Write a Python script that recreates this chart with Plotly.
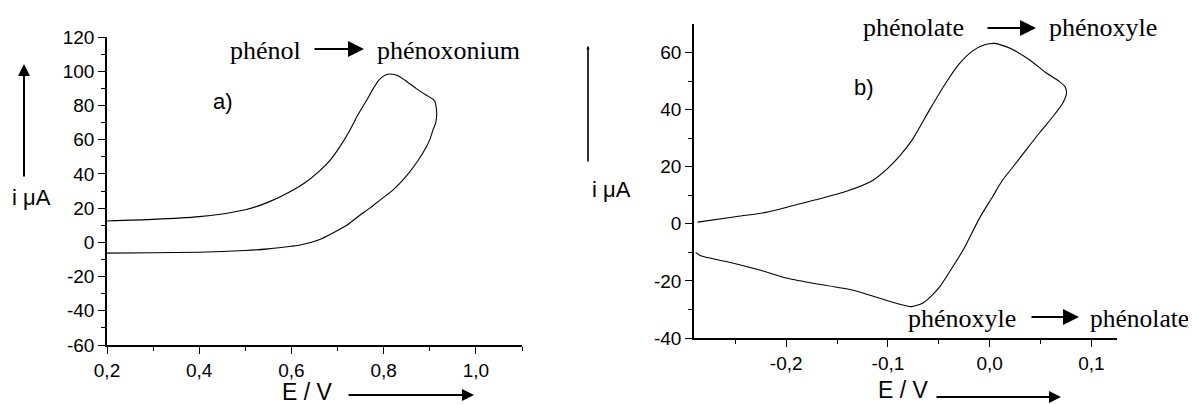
import plotly.graph_objects as go

W, H = 1196, 404
OFF = 8  # page body margin: the figure is drawn starting at (8, 8)
FW, FH = W - OFF, H - OFF

# ---------------- data: panel a) phénol ----------------
E_a = [0.20, 0.30, 0.40, 0.45, 0.50, 0.55, 0.60, 0.63, 0.66, 0.684, 0.71, 0.727, 0.745,
       0.763, 0.78, 0.792, 0.805, 0.814, 0.83, 0.85, 0.87, 0.893, 0.905, 0.911, 0.915,
       0.913, 0.907, 0.90, 0.893, 0.875, 0.85, 0.82, 0.792, 0.77, 0.749, 0.72, 0.69,
       0.66, 0.619, 0.60, 0.55, 0.50, 0.40, 0.30, 0.20]
I_a = [12.5, 13.4, 15.0, 16.6, 19.0, 23.5, 30.0, 35.0, 41.5, 48.0, 58.0, 65.7, 75.0,
       83.0, 91.0, 95.5, 98.0, 98.4, 97.5, 94.0, 90.0, 86.0, 84.0, 82.5, 76.0,
       70.0, 65.7, 60.0, 56.0, 48.0, 39.0, 30.5, 24.7, 20.0, 16.0, 10.0, 5.5,
       1.5, -1.6, -2.3, -3.8, -4.8, -5.8, -6.1, -6.3]

# ---------------- data: panel b) phénolate ----------------
E_b = [-0.287, -0.25, -0.22, -0.194, -0.171, -0.14, -0.115, -0.10, -0.088, -0.076,
       -0.059, -0.043, -0.030, -0.017, -0.005, 0.005, 0.02, 0.039, 0.055, 0.068, 0.074,
       0.0755, 0.072, 0.062, 0.049, 0.036, 0.023, 0.012, 0.003, -0.01, -0.026, -0.038,
       -0.049, -0.058, -0.066, -0.077, -0.09, -0.108, -0.135, -0.174, -0.20, -0.227,
       -0.259, -0.284, -0.289]
I_b = [0.6, 2.5, 4.0, 6.3, 8.4, 11.5, 15.2, 19.5, 24.0, 29.5,
       40.0, 49.4, 56.0, 60.5, 62.7, 63.2, 61.5, 57.5, 53.0, 50.0, 48.0,
       46.0, 42.4, 37.5, 31.9, 26.0, 20.0, 15.0, 9.6, 2.0, -9.1, -16.0,
       -22.0, -25.5, -27.8, -29.0, -28.0, -26.1, -23.2, -20.8, -19.0, -16.1,
       -13.2, -11.2, -10.0]

# ---------------- tick labels ----------------
xa_tickvals = [0.2, 0.4, 0.6, 0.8, 1.0]
xa_ticktext = ["0,2", "0,4", "0,6", "0,8", "1,0"]
xa_minor = [0.3, 0.5, 0.7, 0.9, 1.1]
ya_tickvals = [-60, -40, -20, 0, 20, 40, 60, 80, 100, 120]
ya_ticktext = ["-60", "-40", "-20", "0", "20", "40", "60", "80", "100", "120"]
ya_minor = [-50, -30, -10, 10, 30, 50, 70, 90, 110]

xb_tickvals = [-0.2, -0.1, 0.0, 0.1]
xb_ticktext = ["-0,2", "-0,1", "0,0", "0,1"]
xb_minor = [-0.25, -0.15, -0.05, 0.05]
yb_tickvals = [-40, -20, 0, 20, 40, 60]
yb_ticktext = ["-40", "-20", "0", "20", "40", "60"]
yb_minor = [-30, -10, 10, 30, 50]

SANS = "Liberation Sans, Arial, sans-serif"
SERIF = "Liberation Serif, Times New Roman, serif"

fig = go.Figure()
fig.add_trace(go.Scatter(x=E_a, y=I_a, mode="lines", xaxis="x", yaxis="y",
                         line=dict(color="black", width=1.1, shape="spline", smoothing=0.6),
                         showlegend=False, hoverinfo="skip"))
fig.add_trace(go.Scatter(x=E_b, y=I_b, mode="lines", xaxis="x2", yaxis="y2",
                         line=dict(color="black", width=1.1, shape="spline", smoothing=0.6),
                         showlegend=False, hoverinfo="skip"))


def px(x):
    return (x - OFF) / FW


def py(y):
    return 1 - (y - OFF) / FH


def axis(domain, rng, tv, tt, minor, anchor):
    return dict(domain=domain, range=rng, tickmode="array", tickvals=tv, ticktext=tt,
                ticks="outside", ticklen=7, tickwidth=1.3, tickcolor="black",
                showline=True, linecolor="black", linewidth=1.5, showgrid=False,
                zeroline=False, mirror=False, anchor=anchor, automargin=False,
                tickfont=dict(family=SANS, size=19, color="black"),
                minor=dict(tickmode="array", tickvals=minor, ticks="outside", ticklen=4,
                           tickwidth=1.2, tickcolor="black", showgrid=False))


fig.update_layout(
    template="none",
    width=FW, height=FH, margin=dict(l=0, r=0, t=0, b=0, pad=0, autoexpand=False),
    paper_bgcolor="white", plot_bgcolor="white",
    xaxis=axis([px(107), px(522)], [0.2, 1.1], xa_tickvals, xa_ticktext, xa_minor, "y"),
    yaxis=axis([py(345), py(37)], [-60, 120], ya_tickvals, ya_ticktext, ya_minor, "x"),
    xaxis2=axis([px(694), px(1117)], [-0.2906, 0.1251], xb_tickvals, xb_ticktext, xb_minor, "y2"),
    yaxis2=axis([py(338), py(24)], [-40, 70], yb_tickvals, yb_ticktext, yb_minor, "x2"),
)

ann = []


def text(t, x, y, font, size, xanchor="left"):
    ann.append(dict(text=t, x=px(x), y=py(y), xref="paper", yref="paper",
                    xanchor=xanchor, yanchor="middle", showarrow=False,
                    font=dict(family=font, size=size, color="black")))


def arrow(x0, y0, x1, y1, width=1.6, size=1.0):
    ann.append(dict(text="", x=px(x1), y=py(y1), xref="paper", yref="paper",
                    ax=x0 - x1, ay=y0 - y1, axref="pixel", ayref="pixel",
                    showarrow=True, arrowhead=2, arrowsize=size, arrowwidth=width,
                    arrowcolor="black", standoff=0, startstandoff=0))


# panel a texts
text("phénol", 228, 50, SERIF, 26)
arrow(313, 49, 364, 49, width=2, size=1.6)
text("phénoxonium", 375, 50, SERIF, 26)
text("a)", 211, 101, SANS, 22)
text("i μA", 31, 197, SANS, 22, "center")
arrow(24, 178, 24, 64, width=2, size=1.2)
text("E / V", 307, 392, SANS, 23, "center")
arrow(347, 395, 474, 395, width=2, size=1.2)

# panel b texts
text("phénolate", 861, 27, SERIF, 26)
arrow(986, 28, 1036, 28, width=2, size=1.6)
text("phénoxyle", 1047, 27, SERIF, 26)
text("phénoxyle", 906, 318, SERIF, 26)
arrow(1030, 317, 1079, 317, width=2, size=1.6)
text("phénolate", 1088, 318, SERIF, 25.5)
text("b)", 852, 88, SANS, 22)
text("i μA", 611, 189, SANS, 22, "center")
arrow(588, 163, 588, 46, width=1.6, size=0.4)
text("E / V", 903, 390, SANS, 23, "center")
arrow(935, 397, 1061, 397, width=2, size=1.2)

fig.update_layout(annotations=ann)

fig.write_html("out.html")
